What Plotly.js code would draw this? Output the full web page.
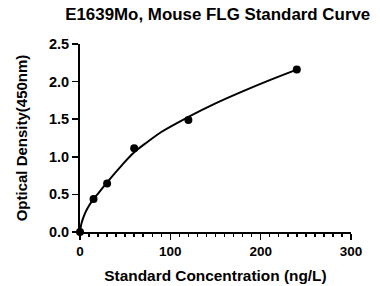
<!DOCTYPE html>
<html><head><meta charset="utf-8">
<script src="https://cdn.plot.ly/plotly-3.0.1.min.js"></script>
<style>html,body{margin:0;padding:0;background:#fff}#c{width:380px;height:286px}</style>
</head><body><div id="c"></div>
<script>
const concentration = [0, 15, 30, 60, 120, 240];
const odValues = [0.0, 0.44, 0.645, 1.115, 1.49, 2.16];
const curveX = [0, 1, 2, 4, 6, 8, 10, 15, 20, 30, 45, 60, 75, 90, 120, 150, 180, 210, 240];
const curveY = [0, 0.08, 0.13, 0.2, 0.26, 0.31, 0.35, 0.44, 0.51, 0.66, 0.87, 1.06, 1.2, 1.33, 1.53, 1.71, 1.87, 2.02, 2.16];
const xTicks = [0, 100, 200, 300];
const yTicks = [0.0, 0.5, 1.0, 1.5, 2.0, 2.5];

const fam = 'Liberation Sans, Arial, sans-serif';
Plotly.newPlot('c', [
  {x: curveX, y: curveY, mode: 'lines', line: {color: '#000', width: 2, shape: 'spline'}, hoverinfo: 'skip', cliponaxis: false},
  {x: concentration, y: odValues, mode: 'markers', marker: {color: '#000', size: 8}, cliponaxis: false}
], {
  width: 380, height: 286,
  margin: {l: 80, r: 29, t: 44, b: 54},
  showlegend: false,
  paper_bgcolor: '#fff', plot_bgcolor: '#fff',
  font: {family: fam, color: '#000'},
  title: {text: '<b>E1639Mo, Mouse FLG Standard Curve</b>', x: 0.573, xanchor: 'center', y: 0.952, yanchor: 'middle', font: {family: fam, size: 16.9, color: '#000'}},
  xaxis: {
    range: [0, 300], tickvals: xTicks, ticktext: xTicks.map(v => '<b>' + v + '</b>'),
    showgrid: false, zeroline: false, showline: true, linecolor: '#000', linewidth: 2,
    ticks: 'outside', ticklen: 6, tickwidth: 1.5, tickcolor: '#000',
    minor: {dtick: 10, ticks: 'outside', ticklen: 3, tickwidth: 1.5, tickcolor: '#000', showgrid: false},
    tickfont: {family: fam, size: 13.5, color: '#000'},
    title: {text: '<b>Standard Concentration (ng/L)</b>', font: {family: fam, size: 15.4, color: '#000'}, standoff: 12}
  },
  yaxis: {
    range: [0, 2.5], tickvals: yTicks, ticktext: yTicks.map(v => '<b>' + v.toFixed(1) + '</b>'),
    showgrid: false, zeroline: false, showline: true, linecolor: '#000', linewidth: 2,
    ticks: 'outside', ticklen: 6, tickwidth: 1.5, tickcolor: '#000',
    tickfont: {family: fam, size: 14.5, color: '#000'},
    title: {text: '<b>Optical Density(450nm)</b>', font: {family: fam, size: 15, color: '#000'}, standoff: 18}
  }
}, {staticPlot: true, displayModeBar: false});
</script></body></html>
